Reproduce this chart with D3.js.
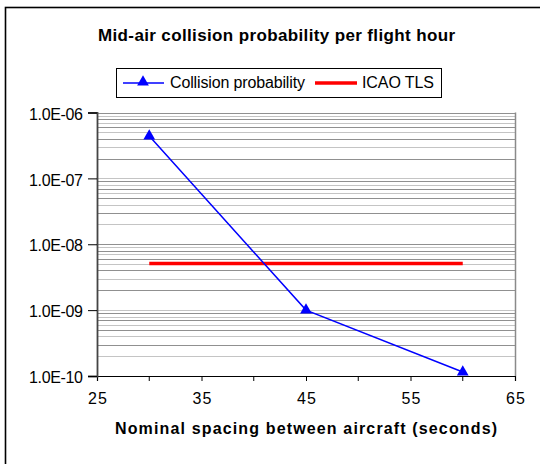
<!DOCTYPE html>
<html>
<head>
<meta charset="utf-8">
<script src="https://cdn.jsdelivr.net/npm/d3@7"></script>
<style>
  html, body { margin: 0; padding: 0; background: #fff; }
  svg { display: block; font-family: "Liberation Sans", Arial, sans-serif; }
</style>
</head>
<body>
<svg id="chart" width="540" height="464"></svg>
<script>
// ---- data ----
const spacing = [30, 45, 60];                       // seconds
const collisionProb = [4.4e-7, 1.0e-9, 1.15e-10];   // per flight hour
const tlsX = [30, 60];
const tlsValue = [5.1e-9, 5.1e-9];
const xTicks = [25, 35, 45, 55, 65];
const xMinorTicks = [30, 40, 50, 60];
const yTicks = [1e-6, 1e-7, 1e-8, 1e-9, 1e-10];
const yTickLabels = ["1.0E-06", "1.0E-07", "1.0E-08", "1.0E-09", "1.0E-10"];
const title = "Mid-air collision probability per flight hour";
const xTitle = "Nominal spacing between aircraft (seconds)";
const seriesNames = ["Collision probability", "ICAO TLS"];

// ---- layout ----
const FONT = "Liberation Sans, Arial, sans-serif";
const svg = d3.select("#chart");
const plot = { left: 97, right: 515, top: 112.5, bottom: 376 };

const x = d3.scaleLinear().domain([25, 65]).range([plot.left, plot.right]);
const y = d3.scaleLog().domain([1e-10, 1e-6]).range([plot.bottom, plot.top]);

// outer chart border (extends beyond the window on right/bottom)
svg.append("rect")
  .attr("x", 5.5).attr("y", 7.5).attr("width", 560).attr("height", 480)
  .attr("fill", "#fff").attr("stroke", "#000").attr("stroke-width", 1.6);

// minor + major gridlines
const gridVals = [];
for (let e = -10; e < -6; e++) {
  for (let m = 1; m <= 9; m++) gridVals.push(m * Math.pow(10, e));
}
gridVals.push(1e-6);
svg.append("g").selectAll("line").data(gridVals).join("line")
  .attr("x1", plot.left).attr("x2", plot.right)
  .attr("y1", d => Math.round(y(d)) + 0.5).attr("y2", d => Math.round(y(d)) + 0.5)
  .attr("stroke", (d, i) => (i % 2 ? "#c4c4c4" : "#909090")).attr("stroke-width", 1);

// right border of plot area
svg.append("line")
  .attr("x1", plot.right + 0.5).attr("x2", plot.right + 0.5)
  .attr("y1", plot.top).attr("y2", plot.bottom)
  .attr("stroke", "#8a8a8a").attr("stroke-width", 1.5);

// x axis
const xAxis = d3.axisBottom(x).tickValues(xTicks).tickSize(5).tickFormat(d3.format("d"));
const gx = svg.append("g").attr("transform", `translate(0,${plot.bottom})`).call(xAxis);
gx.select(".domain").attr("stroke", "#000").attr("stroke-width", 1.2);
gx.selectAll(".tick line").attr("stroke", "#000");
gx.selectAll(".tick text").attr("font-size", 16).attr("fill", "#000")
  .attr("font-family", FONT).attr("y", 17)
  .attr("textLength", 19).attr("lengthAdjust", "spacing");
svg.append("g").attr("transform", `translate(0,${plot.bottom})`)
  .selectAll("line").data(xMinorTicks).join("line")
  .attr("x1", d => x(d)).attr("x2", d => x(d)).attr("y1", 0).attr("y2", 5)
  .attr("stroke", "#000");

// y axis
const yAxis = d3.axisLeft(y).tickValues(yTicks).tickSize(9)
  .tickFormat((d, i) => yTickLabels[i]);
const gy = svg.append("g").attr("transform", `translate(${plot.left},0)`).call(yAxis);
gy.select(".domain").attr("stroke", "#444").attr("stroke-width", 1.8);
gy.selectAll(".tick line").attr("stroke", "#000");
gy.selectAll(".tick text").attr("font-size", 16).attr("fill", "#000")
  .attr("font-family", FONT).attr("x", -14).attr("dy", "0.42em")
  .attr("textLength", 54).attr("lengthAdjust", "spacing");

// ICAO TLS line
const line = d3.line().x(d => x(d[0])).y(d => y(d[1]));
svg.append("path")
  .datum(tlsX.map((v, i) => [v, tlsValue[i]]))
  .attr("d", line).attr("fill", "none").attr("stroke", "#ff0000").attr("stroke-width", 3.5);

// collision probability series
const pts = spacing.map((v, i) => [v, collisionProb[i]]);
svg.append("path").datum(pts).attr("d", line)
  .attr("fill", "none").attr("stroke", "#0000ff").attr("stroke-width", 1.5);
const tri = d3.symbol().type(d3.symbolTriangle).size(60);
svg.append("g").selectAll("path").data(pts).join("path")
  .attr("d", tri)
  .attr("transform", d => `translate(${x(d[0])},${y(d[1])})`)
  .attr("fill", "#0000ff");

// title
svg.append("text").attr("x", 276.5).attr("y", 40.5)
  .attr("text-anchor", "middle").attr("font-weight", "bold").attr("font-size", 17)
  .attr("textLength", 357).attr("lengthAdjust", "spacing")
  .attr("fill", "#000").text(title);

// x axis title
svg.append("text").attr("x", 306).attr("y", 434)
  .attr("text-anchor", "middle").attr("font-weight", "bold").attr("font-size", 16)
  .attr("textLength", 382).attr("lengthAdjust", "spacing")
  .attr("fill", "#000").text(xTitle);

// legend
const lg = svg.append("g");
lg.append("rect").attr("x", 116.5).attr("y", 68.5).attr("width", 325).attr("height", 29)
  .attr("fill", "#fff").attr("stroke", "#000").attr("stroke-width", 1);
lg.append("line").attr("x1", 123).attr("x2", 164).attr("y1", 83).attr("y2", 83)
  .attr("stroke", "#0000ff").attr("stroke-width", 1.5);
lg.append("path").attr("d", tri).attr("transform", "translate(143,82)").attr("fill", "#0000ff");
lg.append("text").attr("x", 170).attr("y", 88).attr("font-size", 16).attr("fill", "#000")
  .attr("textLength", 135).attr("lengthAdjust", "spacing")
  .text(seriesNames[0]);
lg.append("line").attr("x1", 315).attr("x2", 357).attr("y1", 83).attr("y2", 83)
  .attr("stroke", "#ff0000").attr("stroke-width", 3.5);
lg.append("text").attr("x", 362).attr("y", 88).attr("font-size", 16).attr("fill", "#000")
  .attr("textLength", 72).attr("lengthAdjust", "spacing")
  .text(seriesNames[1]);
</script>
</body>
</html>
